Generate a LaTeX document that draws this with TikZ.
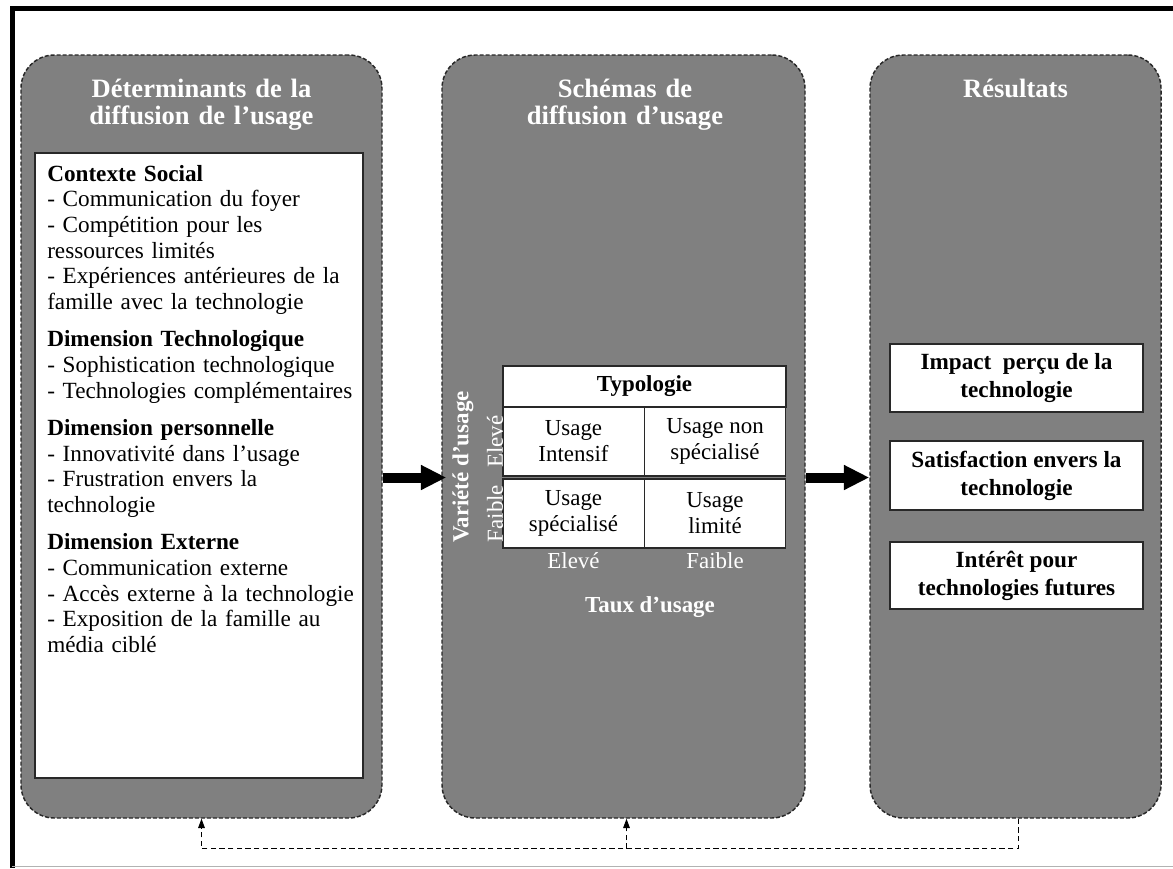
\documentclass[tikz,border=0pt]{standalone}
\usepackage{fontspec}
\setmainfont{Liberation Serif}
\usepackage{tikz}
\usetikzlibrary{arrows.meta}
\usetikzlibrary{fit}
\usetikzlibrary{calc}
\definecolor{panelgrey}{RGB}{128,128,128}
\definecolor{edgegrey}{RGB}{40,40,40}
\newcommand{\bodyfont}{\fontsize{17.4pt}{19.25pt}\selectfont}
\newcommand{\cellfont}{\fontsize{17.2pt}{19.5pt}\selectfont}
\newcommand{\resultfont}{\fontsize{17.4pt}{21pt}\selectfont\bfseries}
\newcommand{\titlefont}{\fontsize{19.9pt}{20.3pt}\selectfont\bfseries}
\newcommand{\groupgap}{8.8pt}
\newcommand{\widthtable}{212.25pt}
\newcommand{\widthcell}{106.1pt}
\newcommand{\widthresult}{189.75pt}
\tikzset{
    panel/.style={draw=edgegrey, fill=panelgrey, line width=1.1pt, dash pattern=on 3pt off 1.5pt, rounded corners=25pt, inner sep=0pt},
    whitebox/.style={draw=edgegrey, fill=white, line width=1.1pt, inner sep=0pt},
    cell/.style={whitebox, align=center, font=\cellfont, minimum width=\widthcell, minimum height=51.75pt},
    result/.style={whitebox, align=center, font=\resultfont, minimum width=\widthresult, minimum height=51pt},
    title/.style={text=white, align=center, text width=250pt, anchor=base, font=\titlefont},
    axis/.style={text=white, font=\cellfont},
    listtext/.style={align=left, text width=250pt, anchor=base west, inner sep=0pt, font=\bodyfont},
    bigarrow/.style={line width=7.5pt, -{Triangle[length=19pt, width=17.5pt]}},
    feedback/.style={line width=0.75pt, dash pattern=on 4pt off 2.5pt, -{Triangle[length=7pt, width=5pt]}}
}

\begin{document}
\begin{tikzpicture}[x=0.75pt, y=-0.75pt]
    \useasboundingbox (0,0) rectangle (1173,868);
    % frame
    \draw[line width=3.75pt] (12,868) -- (12,8.5) -- (1173,8.5);
    \draw[gray!60, line width=1.2pt] (12,866.5) -- (1173,866.5);

    % the three panels
    \node[panel, fit={(21,55) (382,818)}] (det) {};
    \node[panel, fit={(442,55) (805,818)}] (schema) {};
    \node[panel, fit={(870,55) (1161,818)}] (res) {};

    \node[title] (dettitle) at (201.5,97) {Déterminants de la\\diffusion de l’usage};
    \node[title] (schematitle) at (625,97) {Schémas de\\diffusion d’usage};
    \node[title] (restitle) at (1015.5,97) {Résultats};

    % determinants
    \node[whitebox, fit={(35,153) (363,778)}] (factors) {};
    \node[listtext] (factorlist) at (47,181) {%
        \textbf{Contexte Social}\\
        - Communication du foyer\\
        - Compétition pour les\\
        ressources limités\\
        - Expériences antérieures de la\\
        famille avec la technologie\\[\groupgap]
        \textbf{Dimension Technologique}\\
        - Sophistication technologique\\
        - Technologies complémentaires\\[\groupgap]
        \textbf{Dimension personnelle}\\
        - Innovativité dans l’usage\\
        - Frustration envers la\\
        technologie\\[\groupgap]
        \textbf{Dimension Externe}\\
        - Communication externe\\
        - Accès externe à la technologie\\
        - Exposition de la famille au\\
        média ciblé};

    % typology
    \node[cell, minimum width=\widthtable, minimum height=30.75pt, font=\cellfont\bfseries] (typo) at (644.5,386.5) {Typologie};
    \node[cell] (intensif) at (573.5,441.5) {Usage\\Intensif};
    \node[cell] (nonspec) at (715,441.5) {Usage non\\spécialisé};
    \node[cell] (spec) at (573.5,513.5) {Usage\\spécialisé};
    \node[cell] (limite) at (715,513.5) {Usage\\limité};
    \coordinate (gap) at (503,477.5);

    \node[axis, rotate=90] (rowhigh) at (495,441.5) {Elevé};
    \node[axis, rotate=90] (rowlow) at (495,513.5) {Faible};
    \node[axis, rotate=90, font=\cellfont\bfseries] (variete) at (463,467) {Variété d’usage};
    \node[axis] (colhigh) at (573.5,561) {Elevé};
    \node[axis] (collow) at (715,561) {Faible};
    \node[axis, font=\cellfont\bfseries] (taux) at (650,607) {Taux d’usage};

    % results
    \node[result] (impact) at (1016.5,378) {Impact~ perçu de la\\technologie};
    \node[result, minimum height=51.75pt] (satisf) at (1016.5,475.5) {Satisfaction envers la\\technologie};
    \node[result, minimum height=50.25pt] (interet) at (1016.5,575.5) {Intérêt pour\\technologies futures};

    % arrows
    \draw[bigarrow, shorten >=-3.75pt] (det.east |- gap) -- (schema.west |- gap);
    \draw[bigarrow] (schema.east |- gap) -- (res.west |- gap);

    \coordinate (fbturn) at ($(res.south)+(2.5,30)$);
    \draw[feedback] (res.south -| fbturn) -- (fbturn) -| (det.south);
    \draw[feedback] ($(schema.south |- fbturn)+(3,0)$) -- ($(schema.south)+(3,0)$);
\end{tikzpicture}
\end{document}
